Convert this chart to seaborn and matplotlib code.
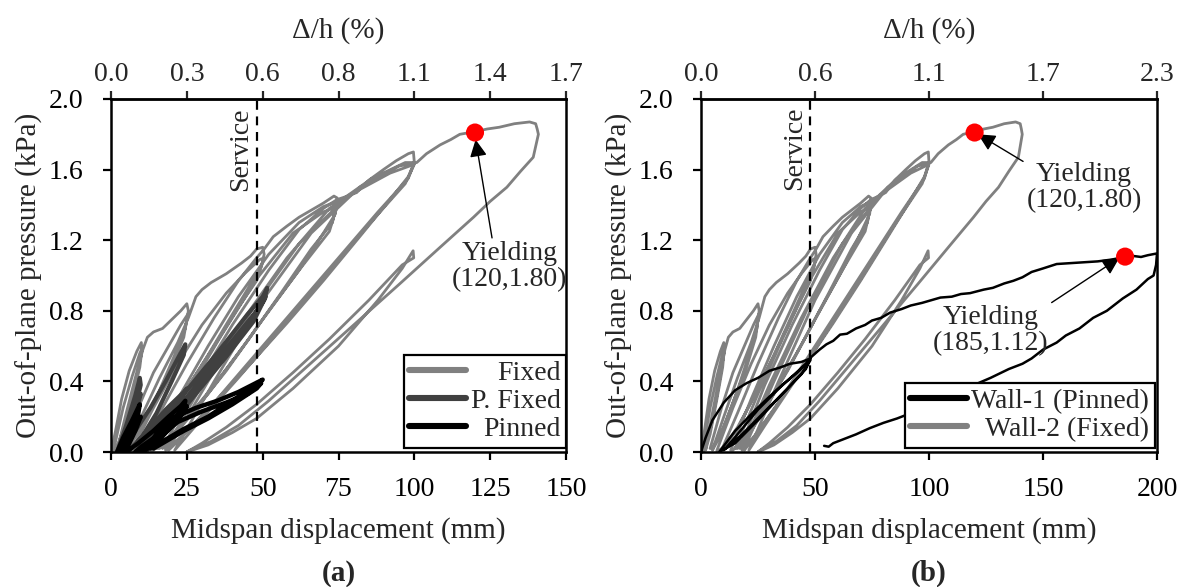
import numpy as np
import pandas as pd
import matplotlib
matplotlib.use("Agg")
import matplotlib.pyplot as plt
import seaborn as sns

# ---------------- data ----------------
# Wall with fixed supports (same record in both panels): displacement (mm), pressure (kPa)
fixed_x = [0, 1.5, 3.5, 6, 8.5, 10, 10.2, 9, 7, 4.5, 2, 1,
           1.5, 4, 7, 9.5, 10.3, 9.5, 7, 4, 2,
           2, 5, 8, 10.5, 12, 14, 17, 20, 23, 25, 25.5, 24.5, 21, 16, 10, 5,
           4, 9, 14, 19, 23, 25.3, 24, 20, 14, 8, 5,
           5, 10, 16, 22, 25.5, 28, 30, 33, 38, 43, 46, 48, 50, 50.5, 49.5, 46, 40, 32, 24, 16, 10, 7,
           7, 14, 22, 30, 38, 44, 49, 50.5, 48, 42, 34, 25, 16, 9,
           9, 16, 25, 34, 42, 48, 50.5, 53.5, 58, 62, 66, 70, 73.5, 74.5, 74, 70, 62, 52, 42, 32, 22, 14,
           13, 22, 32, 42, 52, 62, 70, 74.5, 73, 66, 56, 45, 34, 24, 16,
           15, 25, 36, 48, 60, 70, 74.5, 72, 62, 50, 38, 26, 17,
           17, 28, 40, 52, 62, 70, 74.5, 78, 81, 85, 89.8, 94, 98, 99.7, 100, 98, 92, 82, 70, 58, 46, 34, 24, 18,
           18, 30, 44, 58, 72, 86, 97, 100, 98, 88, 74, 60, 46, 33, 22, 19,
           19, 32, 47, 62, 78, 92, 100, 97, 84, 70, 56, 42, 28, 21,
           21, 34, 50, 66, 82, 95, 100.8, 104, 108.5, 112, 115, 120, 124, 128, 133, 138, 140, 140.5, 140.9,
           139.2, 135, 130.5, 125, 119.5, 108.5, 95, 80, 65, 52, 42, 33, 26,
           25, 32, 40, 48, 60, 75, 88, 96, 99.6, 99.8, 96, 85, 72, 60, 48, 38, 30, 25]
fixed_y = [0, 0.12, 0.30, 0.46, 0.57, 0.62, 0.58, 0.47, 0.32, 0.15, 0.03, 0.0,
           0.06, 0.25, 0.43, 0.56, 0.59, 0.48, 0.30, 0.10, 0.01,
           0.01, 0.22, 0.42, 0.58, 0.65, 0.68, 0.70, 0.75, 0.80, 0.84, 0.80, 0.70, 0.55, 0.35, 0.14, 0.02,
           0.02, 0.25, 0.45, 0.60, 0.72, 0.78, 0.65, 0.48, 0.28, 0.08, 0.01,
           0.01, 0.20, 0.42, 0.62, 0.76, 0.88, 0.92, 0.96, 1.01, 1.07, 1.11, 1.15, 1.16, 1.12, 1.05, 0.95, 0.78, 0.55, 0.33, 0.14, 0.03, 0.0,
           0.01, 0.25, 0.50, 0.72, 0.90, 1.01, 1.09, 1.10, 0.97, 0.82, 0.60, 0.36, 0.13, 0.01,
           0.01, 0.22, 0.50, 0.76, 0.97, 1.10, 1.15, 1.22, 1.28, 1.33, 1.37, 1.41, 1.45, 1.44, 1.35, 1.24, 1.03, 0.80, 0.56, 0.33, 0.13, 0.01,
           0.01, 0.30, 0.60, 0.88, 1.12, 1.30, 1.39, 1.42, 1.30, 1.15, 0.90, 0.63, 0.38, 0.17, 0.02,
           0.02, 0.33, 0.65, 0.98, 1.24, 1.36, 1.39, 1.25, 1.03, 0.75, 0.46, 0.20, 0.02,
           0.02, 0.38, 0.72, 1.03, 1.26, 1.38, 1.43, 1.45, 1.47, 1.54, 1.60, 1.65, 1.69, 1.70, 1.64, 1.56, 1.43, 1.22, 0.97, 0.73, 0.50, 0.28, 0.10, 0.01,
           0.02, 0.38, 0.76, 1.10, 1.38, 1.55, 1.64, 1.64, 1.55, 1.36, 1.08, 0.80, 0.52, 0.26, 0.06, 0.01,
           0.02, 0.40, 0.82, 1.18, 1.45, 1.58, 1.63, 1.52, 1.27, 0.98, 0.70, 0.42, 0.15, 0.01,
           0.01, 0.40, 0.86, 1.24, 1.50, 1.62, 1.64, 1.69, 1.74, 1.77, 1.80, 1.815, 1.83, 1.84, 1.86, 1.87, 1.86, 1.83, 1.80,
           1.67, 1.59, 1.50, 1.42, 1.33, 1.16, 0.95, 0.72, 0.49, 0.29, 0.15, 0.06, 0.01,
           0.0, 0.04, 0.11, 0.19, 0.36, 0.60, 0.86, 1.04, 1.14, 1.10, 1.06, 0.86, 0.64, 0.45, 0.27, 0.14, 0.05, 0.0]

# Partially fixed wall
pfixed_x = [2, 5, 8, 9.5, 9.8, 8, 5, 3,
            3, 6, 9, 9.8, 8, 5, 3.5,
            3.5, 8, 13, 18, 22, 24.5, 24, 20, 15, 10, 6,
            6, 12, 18, 24, 25, 22, 16, 10, 8,
            8, 15, 25, 35, 45, 50, 51.5, 50.5, 45, 38, 28, 18, 11,
            11, 20, 30, 40, 48, 51, 47, 38, 28, 18, 12]
pfixed_y = [0.0, 0.15, 0.32, 0.42, 0.38, 0.25, 0.08, 0.01,
            0.01, 0.15, 0.30, 0.33, 0.20, 0.05, 0.0,
            0.0, 0.12, 0.25, 0.40, 0.53, 0.61, 0.55, 0.40, 0.22, 0.08, 0.01,
            0.01, 0.12, 0.24, 0.34, 0.36, 0.27, 0.14, 0.03, 0.0,
            0.0, 0.15, 0.35, 0.56, 0.78, 0.88, 0.93, 0.86, 0.72, 0.56, 0.35, 0.14, 0.02,
            0.01, 0.20, 0.42, 0.63, 0.80, 0.88, 0.74, 0.54, 0.33, 0.12, 0.01]

# Pinned wall, panel (a)
pinned_x = [2, 4, 7, 9.5, 9, 6, 4, 3,
            3.5, 6, 9, 9.8, 8, 5.5, 4.5,
            5, 9, 14, 19, 23, 24.5, 24, 20, 15, 10, 8,
            9, 14, 19, 23.5, 25, 22, 17, 12, 10,
            12, 13, 16, 20, 28, 35, 42, 50, 48, 40, 32, 24, 17, 13,
            13, 17, 22, 30, 38, 45, 49.5, 48, 40, 32, 24, 17, 14]
pinned_y = [0.0, 0.08, 0.18, 0.27, 0.22, 0.10, 0.02, 0.0,
            0.0, 0.08, 0.18, 0.20, 0.12, 0.03, 0.0,
            0.0, 0.05, 0.12, 0.20, 0.26, 0.29, 0.25, 0.17, 0.09, 0.03, 0.0,
            0.0, 0.07, 0.14, 0.22, 0.26, 0.18, 0.09, 0.02, 0.0,
            0.02, 0.05, 0.13, 0.19, 0.25, 0.29, 0.34, 0.41, 0.38, 0.29, 0.20, 0.13, 0.06, 0.02,
            0.03, 0.10, 0.17, 0.23, 0.28, 0.33, 0.39, 0.36, 0.27, 0.19, 0.12, 0.05, 0.02]

# Wall-1 (pinned), panel (b)
wall1_x = [0, 2, 5, 10, 15, 20, 25, 30, 35, 39, 44, 48,
           46, 38, 28, 18, 10,
           16, 25, 35, 43, 48,
           44, 35, 25, 15, 8,
           15, 24, 33, 41, 46, 48.5, 52, 55, 58, 61, 64, 68, 72, 75, 79, 83, 88, 92, 97, 101, 105,
           110, 114, 118, 124, 128, 133, 137, 141, 145, 150, 156, 162, 168, 174, 180, 186, 190, 193,
           196, 200,
           199.6, 198.5, 196, 191, 185, 178, 172, 166, 160, 156, 150, 145, 141, 135, 127, 118, 110,
           100, 92, 86, 80, 74, 68, 62, 58, 56, 54]
wall1_y = [0, 0.08, 0.18, 0.28, 0.35, 0.39, 0.42, 0.46, 0.48, 0.50, 0.51, 0.53,
           0.47, 0.36, 0.23, 0.10, 0.01,
           0.10, 0.24, 0.37, 0.46, 0.52,
           0.44, 0.32, 0.18, 0.05, 0.0,
           0.12, 0.24, 0.35, 0.44, 0.50, 0.54, 0.58, 0.61, 0.63, 0.665, 0.67, 0.70, 0.72, 0.745,
           0.76, 0.79, 0.81, 0.83, 0.845, 0.86, 0.875,
           0.88, 0.895, 0.90, 0.92, 0.93, 0.955, 0.97, 0.99, 1.02, 1.04, 1.065, 1.07, 1.075, 1.08,
           1.09, 1.105, 1.11, 1.105,
           1.115, 1.125,
           1.06, 1.00, 0.98, 0.92, 0.87, 0.80, 0.76, 0.70, 0.66, 0.62, 0.58, 0.53, 0.50, 0.47, 0.42,
           0.37, 0.31,
           0.26, 0.22, 0.19, 0.165, 0.135, 0.10, 0.07, 0.05, 0.03, 0.035]

# Yield points and labels
yield_a = (120, 1.81)
yield_b1 = (186, 1.107)
service_disp = 48

ytick_vals = [0.0, 0.4, 0.8, 1.2, 1.6, 2.0]
xtick_a = [0, 25, 50, 75, 100, 125, 150]
drift_a = ["0.0", "0.3", "0.6", "0.8", "1.1", "1.4", "1.7"]
xtick_b = [0, 50, 100, 150, 200]
drift_b = ["0.0", "0.6", "1.1", "1.7", "2.3"]

# ---------------- style ----------------
sns.set_style("ticks")
plt.rcParams["font.family"] = ["Liberation Serif", "DejaVu Serif"]

FS_TICK = 20
FS_LAB = 21
GRAY = "#808080"
DGRAY = "#404040"

fig = plt.figure(figsize=(11.85, 5.87), dpi=100)
axa = fig.add_axes([111 / 1185, 1 - 452 / 587, 455 / 1185, 353 / 587])
axb = fig.add_axes([701 / 1185, 1 - 452 / 587, 456 / 1185, 353 / 587])


def draw(ax, x, y, color, lw, label):
    df = pd.DataFrame({"x": x, "y": y})
    sns.lineplot(data=df, x="x", y="y", sort=False, estimator=None, color=color,
                 lw=lw, ax=ax, label=label, legend=False, solid_joinstyle="round")


# panel (a)
draw(axa, fixed_x, fixed_y, GRAY, 2.0, "Fixed")
draw(axa, pfixed_x, pfixed_y, DGRAY, 3.0, "P. Fixed")
draw(axa, pinned_x, pinned_y, "black", 3.2, "Pinned")

# panel (b)
draw(axb, fixed_x, fixed_y, GRAY, 2.0, "Wall-2 (Fixed)")
draw(axb, wall1_x, wall1_y, "black", 1.8, "Wall-1 (Pinned)")


def style_axes(ax, xmax, xticks, drift_labels):
    ax.set_xlim(0, xmax)
    ax.set_ylim(0, 2.0)
    ax.set_xticks(xticks)
    ax.set_xticklabels([str(v) for v in xticks])
    ax.set_yticks(ytick_vals)
    ax.set_yticklabels([f"{v:.1f}" for v in ytick_vals])
    for s in ax.spines.values():
        s.set_visible(True)
        s.set_linewidth(1.8)
        s.set_color("black")
    ax.tick_params(direction="out", length=6, width=1.6, labelsize=FS_TICK,
                   colors="black")
    ax.tick_params(axis="x", pad=12)
    ax.tick_params(axis="y", pad=14)
    ax.set_xlabel("Midspan displacement (mm)", fontsize=FS_LAB, labelpad=11)
    ax.set_ylabel("Out-of-plane pressure (kPa)", fontsize=FS_LAB, labelpad=4)
    sec = ax.secondary_xaxis("top")
    sec.set_xticks(xticks)
    sec.set_xticklabels(drift_labels)
    sec.tick_params(direction="out", length=6, width=1.6, labelsize=FS_TICK, pad=2.5)
    sec.set_xlabel("Δ/h (%)", fontsize=FS_LAB, labelpad=18)
    sec.spines["top"].set_linewidth(1.8)
    # service line
    ax.axvline(service_disp, color="black", lw=1.6, ls=(0, (4, 3)), zorder=4)


style_axes(axa, 150, xtick_a, drift_a)
style_axes(axb, 200, xtick_b, drift_b)

axa.text(service_disp - 1.2, 1.95, "Service", rotation=90, ha="right", va="top",
         fontsize=FS_TICK)
axb.text(service_disp - 1.6, 1.96, "Service", rotation=90, ha="right", va="top",
         fontsize=FS_TICK)

# yield points
for ax in (axa, axb):
    sns.scatterplot(x=[yield_a[0]], y=[yield_a[1]], color="red", s=170, edgecolor="none",
                    zorder=6, ax=ax, legend=False)
sns.scatterplot(x=[yield_b1[0]], y=[yield_b1[1]], color="red", s=170, edgecolor="none",
                zorder=6, ax=axb, legend=False)

arrow = dict(arrowstyle="-|>", color="black", lw=1.0, mutation_scale=26,
             shrinkA=0, shrinkB=0)
axa.annotate("Yielding\n(120,1.80)", xy=(120.2, 1.77), xytext=(131.5, 1.05),
             ha="center", va="center", fontsize=FS_TICK, linespacing=1.05,
             arrowprops=dict(arrow, relpos=(0.35, 1.0)))
axb.annotate("Yielding\n(120,1.80)", xy=(121.5, 1.80), xytext=(168, 1.50),
             ha="center", va="center", fontsize=FS_TICK, linespacing=1.05,
             arrowprops=dict(arrow, relpos=(0.05, 0.9)))
axb.annotate("Yielding\n(185,1.12)", xy=(183.5, 1.10), xytext=(127, 0.69),
             ha="center", va="center", fontsize=FS_TICK, linespacing=1.05,
             arrowprops=dict(arrow, relpos=(0.9, 0.85)))

# panel letters
for ax, letter in ((axa, "(a)"), (axb, "(b)")):
    ax.text(0.5, -0.345, letter, transform=ax.transAxes, ha="center", va="center",
            fontsize=FS_LAB, fontweight="bold")


# legends
def make_legend(ax, order, anchor):
    h, l = ax.get_legend_handles_labels()
    lookup = dict(zip(l, h))
    leg = ax.legend([lookup[k] for k in order], order, loc="lower right",
                    bbox_to_anchor=anchor, borderaxespad=0, fontsize=FS_TICK,
                    frameon=True, fancybox=False, framealpha=1, edgecolor="black",
                    handlelength=2.05, handletextpad=0.15, labelspacing=0.1,
                    borderpad=0.2)
    leg.get_frame().set_linewidth(1.6)
    for ln in leg.get_lines():
        ln.set_linewidth(4.4)
    leg.set_zorder(10)
    return leg


lega = make_legend(axa, ["Fixed", "P. Fixed", "Pinned"], (1.0, 0.012))
legb = make_legend(axb, ["Wall-1 (Pinned)", "Wall-2 (Fixed)"], (0.995, 0.012))


def right_align(leg):
    fig.canvas.draw()
    r = fig.canvas.get_renderer()
    fs = leg._fontsize
    items = []
    for col in leg._legend_handle_box.get_children():
        for hp in col.get_children():
            txt = hp.get_children()[1]._text
            items.append((hp, txt.get_window_extent(r).width))
    wmax = max(w for _, w in items)
    for hp, w in items:
        hp.sep = leg.handletextpad * fs + (wmax - w) * 72 / fig.dpi


right_align(lega)
right_align(legb)

fig.savefig("out.png", dpi=100)
